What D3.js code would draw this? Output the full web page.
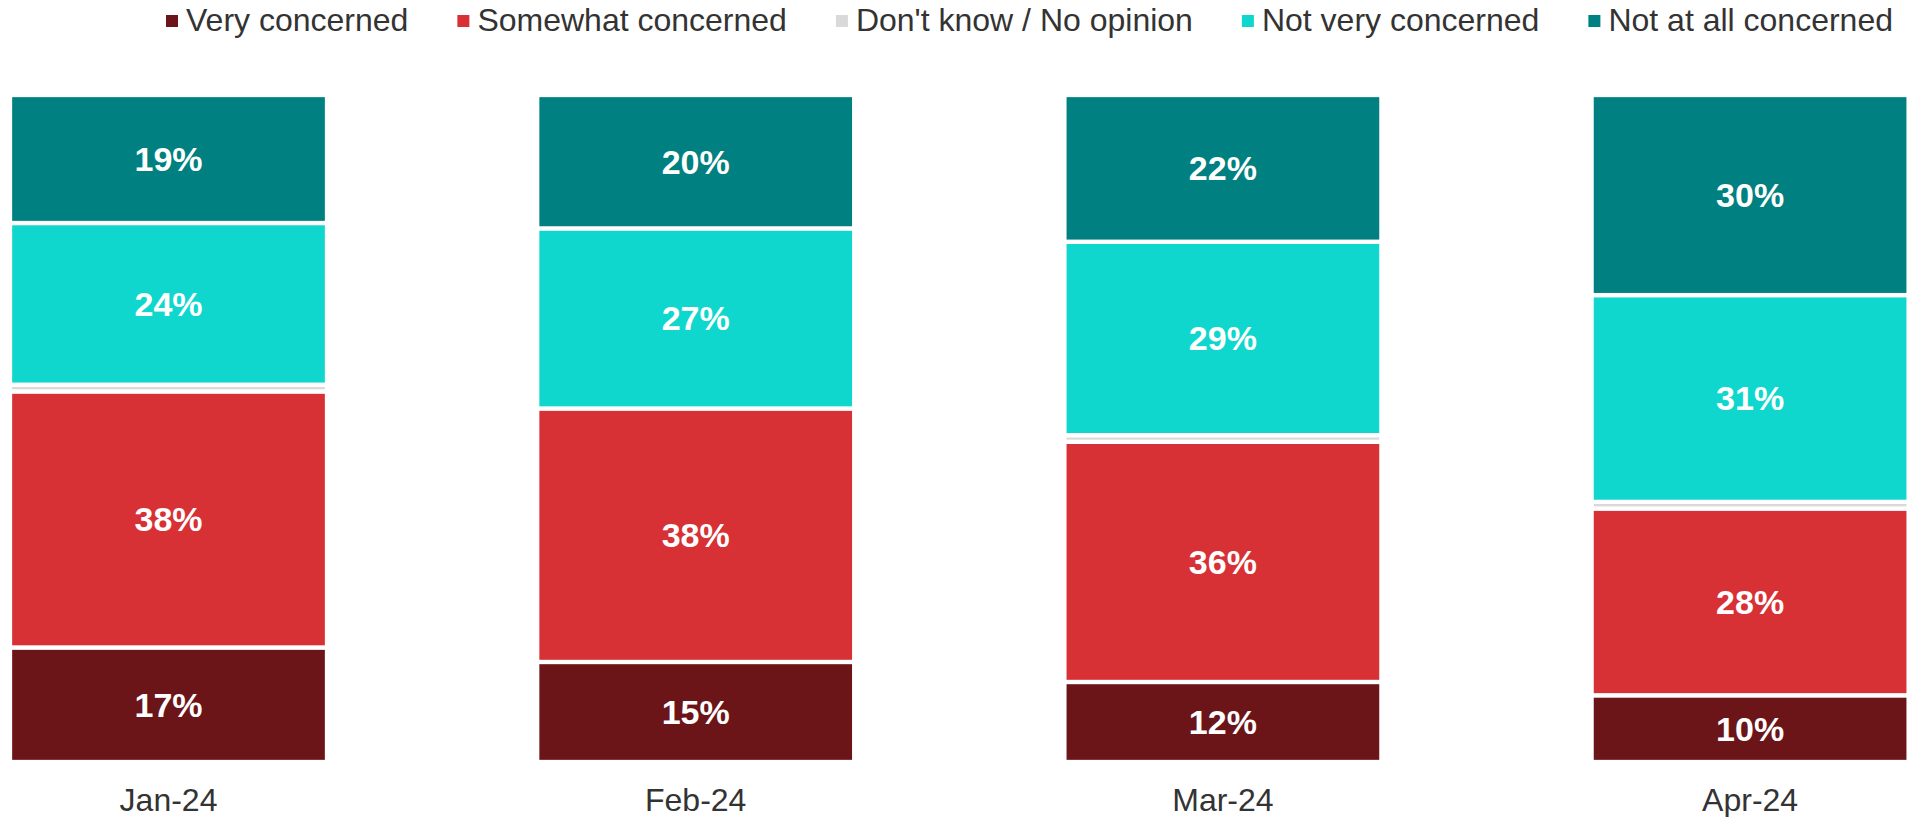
<!DOCTYPE html>
<html>
<head>
<meta charset="utf-8">
<script src="https://cdn.jsdelivr.net/npm/d3@7"></script>
<style>
  html, body { margin: 0; padding: 0; background: #ffffff; }
  svg { display: block; }
  text { font-family: "Liberation Sans", Arial, sans-serif; }
</style>
</head>
<body>
<svg id="chart" width="1908" height="817"></svg>
<script>
// Survey waves
const months = ["Jan-24", "Feb-24", "Mar-24", "Apr-24"];

// Response categories, bottom to top of each bar
const seriesNames = ["Very concerned", "Somewhat concerned", "Don't know / No opinion", "Not very concerned", "Not at all concerned"];
const seriesColors = ["#6b1519", "#d73035", "#d9d9d9", "#0fd7cd", "#008080"];

// Share of respondents (%) per wave
const veryConcerned      = [17, 15, 12, 10];
const somewhatConcerned  = [38, 38, 36, 28];
const dontKnow           = [1, 0, 1, 1];
const notVeryConcerned   = [24, 27, 29, 31];
const notAtAllConcerned  = [19, 20, 22, 30];

const seriesValues = [veryConcerned, somewhatConcerned, dontKnow, notVeryConcerned, notAtAllConcerned];
const labelled = [true, true, false, true, true];

const rows = months.map((m, i) => {
  const r = { month: m };
  seriesNames.forEach((s, k) => { r[s] = seriesValues[k][i]; });
  return r;
});

const svg = d3.select("#chart");

const x = d3.scaleBand()
  .domain(months)
  .range([10, 1908.6])
  .paddingInner(0.3987)
  .paddingOuter(0);

const y = d3.scaleLinear().domain([0, 1]).range([762, 95]);

const stacked = d3.stack()
  .keys(seriesNames)
  .offset(d3.stackOffsetExpand)(rows);

const layers = svg.append("g")
  .selectAll("g")
  .data(stacked)
  .join("g")
  .attr("fill", (d, i) => seriesColors[i]);

layers.selectAll("rect")
  .data(d => d)
  .join("rect")
  .attr("x", d => x(d.data.month))
  .attr("width", x.bandwidth())
  .attr("y", d => y(d[1]))
  .attr("height", d => Math.max(0, y(d[0]) - y(d[1])))
  .attr("stroke", "#ffffff")
  .attr("stroke-width", 4.3);

// Value labels inside the segments
stacked.forEach((layer, k) => {
  if (!labelled[k]) return;
  svg.append("g")
    .selectAll("text")
    .data(layer)
    .join("text")
    .attr("x", d => x(d.data.month) + x.bandwidth() / 2)
    .attr("y", d => (y(d[0]) + y(d[1])) / 2)
    .attr("text-anchor", "middle")
    .attr("dominant-baseline", "central")
    .attr("fill", "#ffffff")
    .attr("font-weight", "bold")
    .attr("font-size", 34)
    .text(d => d.data[layer.key] + "%");
});

// Category axis
const axis = svg.append("g")
  .attr("transform", "translate(0,762)")
  .call(d3.axisBottom(x).tickSize(0));
axis.select(".domain").remove();
axis.selectAll("text")
  .attr("y", 49)
  .attr("dy", 0)
  .attr("fill", "#333333")
  .attr("font-size", 32)
  .style("font-family", "'Liberation Sans', Arial, sans-serif");

// Legend across the top
const legend = svg.append("g");
const items = legend.selectAll("g")
  .data(seriesNames)
  .join("g");
items.append("rect")
  .attr("width", 12)
  .attr("height", 12)
  .attr("y", 15)
  .attr("fill", (d, i) => seriesColors[i]);
items.append("text")
  .attr("x", 20)
  .attr("y", 31)
  .attr("font-size", 32)
  .attr("fill", "#333333")
  .text(d => d);

const widths = [];
items.each(function () {
  widths.push(20 + d3.select(this).select("text").node().getComputedTextLength());
});
const legendLeft = 166, legendRight = 1893;
const gap = (legendRight - legendLeft - d3.sum(widths)) / (widths.length - 1);
let cursor = legendLeft;
items.attr("transform", (d, i) => {
  const t = `translate(${cursor},0)`;
  cursor += widths[i] + gap;
  return t;
});
</script>
</body>
</html>
